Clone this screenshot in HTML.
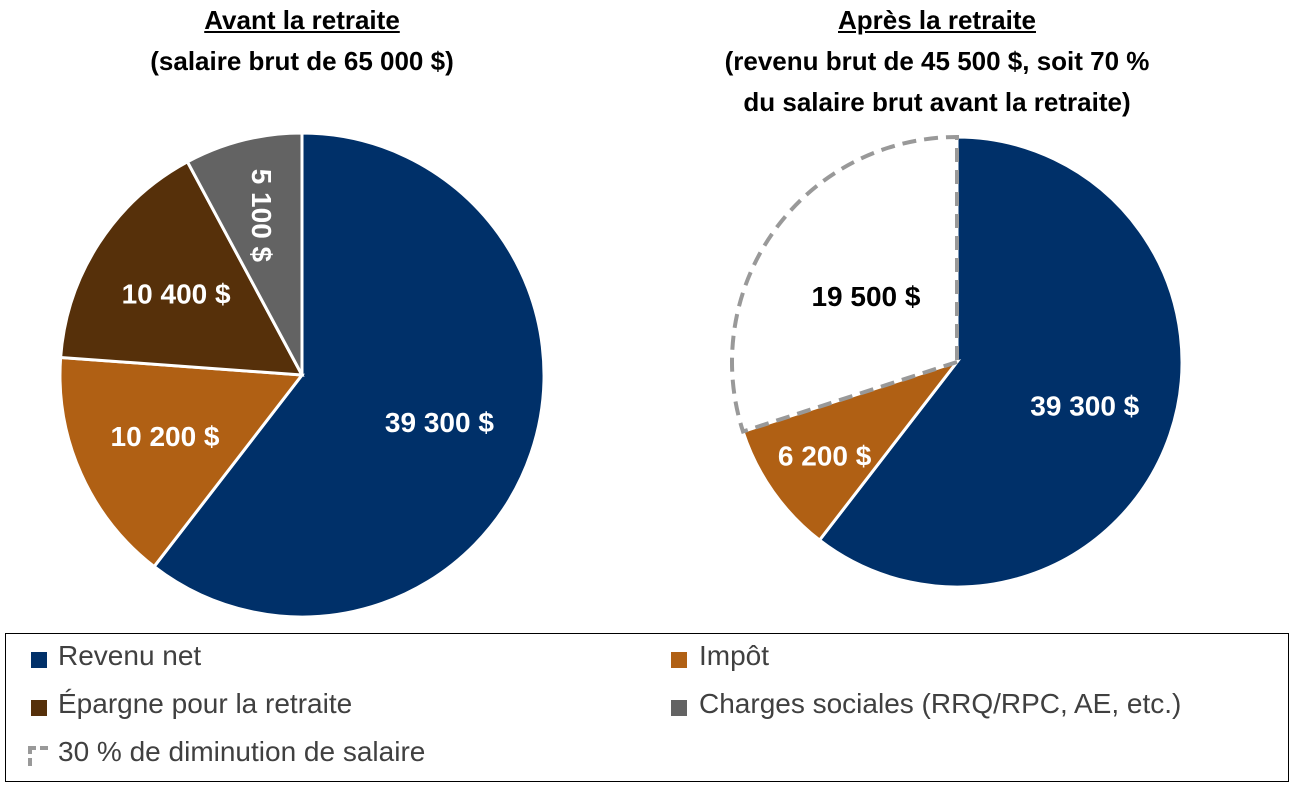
<!DOCTYPE html>
<html><head><meta charset="utf-8"><style>
body{margin:0;width:1295px;height:786px;background:#fff;font-family:"Liberation Sans",sans-serif;overflow:hidden}
.t{position:absolute;font-weight:bold;font-size:26px;text-align:center;color:#000;line-height:41px}
.lg{position:absolute;left:5px;top:633px;width:1282px;height:147px;border:1.5px solid #000}
.it{position:absolute;font-size:28px;color:#404040;white-space:nowrap}
.sq{position:absolute;width:16px;height:16px}
</style></head><body>
<div class="t" style="left:52px;top:0;width:500px"><u>Avant la retraite</u><br>(salaire brut de 65 000 $)</div>
<div class="t" style="left:637px;top:0;width:600px"><u>Après la retraite</u><br>(revenu brut de 45 500 $, soit 70 %<br>du salaire brut avant la retraite)</div>
<svg id="c" width="1295" height="786" style="position:absolute;left:0;top:0"></svg>
<div class="lg">
<div class="sq" style="left:25px;top:18px;background:#003069"></div><div class="it" style="left:52px;top:6px">Revenu net</div>
<div class="sq" style="left:665px;top:18px;background:#B06014"></div><div class="it" style="left:693px;top:6px">Impôt</div>
<div class="sq" style="left:25px;top:66px;background:#56300A"></div><div class="it" style="left:52px;top:54px">Épargne pour la retraite</div>
<div class="sq" style="left:665px;top:66px;background:#636363"></div><div class="it" style="left:693px;top:54px">Charges sociales (RRQ/RPC, AE, etc.)</div>
<div class="sq" style="left:22px;top:112px;width:14px;height:14px;border-top:4px dashed #999;border-left:4px dashed #999;box-sizing:border-box;width:20px;height:20px"></div><div class="it" style="left:52px;top:102px">30 % de diminution de salaire</div>
</div>
<script>
const leftValues=[39300,10200,10400,5100];
const leftLabels=["39 300 $","10 200 $","10 400 $","5 100 $"];
const rightValues=[39300,6200,19500];
const rightLabels=["39 300 $","6 200 $","19 500 $"];
const svg=document.getElementById('c');const NS='http://www.w3.org/2000/svg';
function pt(cx,cy,r,a){return [cx+r*Math.sin(a),cy-r*Math.cos(a)];}
function pie(vals,labels,cx,cy,r,styles,names,lpos){
 const tot=vals.reduce((a,b)=>a+b,0);let a0=0;
 vals.forEach((v,i)=>{const a1=a0+v/tot*2*Math.PI;const s=styles[i];
  const p0=pt(cx,cy,r,a0),p1=pt(cx,cy,r,a1);const lg=(a1-a0)>Math.PI?1:0;
  const p=document.createElementNS(NS,'path');
  p.setAttribute('d',`M${cx},${cy}L${p0[0]},${p0[1]}A${r},${r} 0 ${lg} 1 ${p1[0]},${p1[1]}Z`);
  p.setAttribute('fill',s.fill);p.setAttribute('stroke',s.stroke);p.setAttribute('stroke-width',s.sw);
  if(s.dash)p.setAttribute('stroke-dasharray',s.dash);
  
  
  svg.appendChild(p);
  const am=(a0+a1)/2;const lp=pt(cx,cy,r*lpos[i],am);
  const t=document.createElementNS(NS,'text');t.textContent=labels[i];
  t.setAttribute('x',lp[0]);t.setAttribute('y',lp[1]+10);t.setAttribute('text-anchor','middle');
  t.setAttribute('font-size','28');t.setAttribute('font-weight','bold');t.setAttribute('font-family','Liberation Sans, sans-serif');
  t.setAttribute('fill',s.text);
  if(s.rot)t.setAttribute('transform',`rotate(90 ${lp[0]} ${lp[1]})`),t.setAttribute('y',lp[1]+10);
  
  
  svg.appendChild(t);a0=a1;});
}
pie(leftValues,leftLabels,302,375,242,[
 {fill:'#003069',stroke:'#fff',sw:3,text:'#fff'},{fill:'#B06014',stroke:'#fff',sw:3,text:'#fff'},
 {fill:'#56300A',stroke:'#fff',sw:3,text:'#fff'},{fill:'#636363',stroke:'#fff',sw:3,text:'#fff',rot:1}],
 ['slice-revenu-net-avant','slice-impot-avant','slice-epargne-avant','slice-charges-avant'],[0.6,0.62,0.62,0.68]);
pie(rightValues,rightLabels,957,362,225,[
 {fill:'#003069',stroke:'#fff',sw:3,text:'#fff'},{fill:'#B06014',stroke:'#fff',sw:3,text:'#fff'},
 {fill:'#fff',stroke:'#999',sw:4,dash:'14,8',text:'#000'}],
 ['slice-revenu-net-apres','slice-impot-apres','slice-diminution-apres'],[0.6,0.72,0.5]);
</script>
</body></html>
